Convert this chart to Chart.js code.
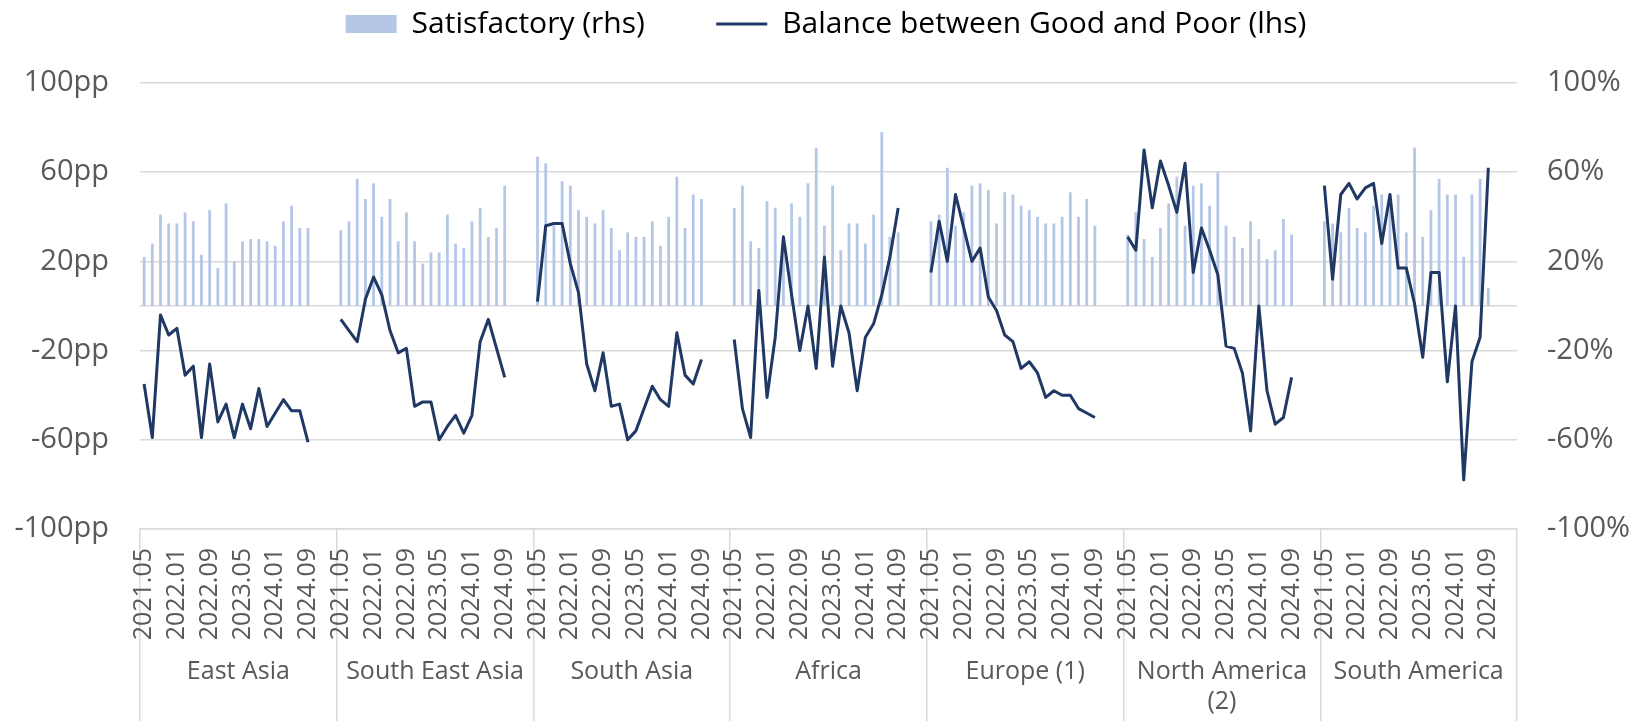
<!DOCTYPE html>
<html>
<head>
<meta charset="utf-8">
<script src="https://cdn.jsdelivr.net/npm/chart.js@4.4.1/dist/chart.umd.min.js"></script>
<style>
  html, body { margin: 0; padding: 0; background: #fff; }
  #wrap { width: 1652px; height: 721px; }
</style>
</head>
<body>
<div id="wrap"><canvas id="grafica" width="1652" height="721"></canvas></div>
<script>
/* Regiones y fechas (bimensual) */
const regiones = ["East Asia", "South East Asia", "South Asia", "Africa", "Europe (1)", ["North America", "(2)"], "South America"];
const fechas = ["2021.05", "2021.07", "2021.09", "2021.11", "2022.01", "2022.03", "2022.05", "2022.07",
    "2022.09", "2022.11", "2023.01", "2023.03", "2023.05", "2023.07", "2023.09", "2023.11",
    "2024.01", "2024.03", "2024.05", "2024.07", "2024.09"];

/* Satisfactory (rhs), % */
const satEastAsia = [22, 28, 41, 37, 37, 42, 38, 23, 43, 17, 46, 20, 29, 30, 30, 29, 27, 38, 45, 35, 35];
const satSouthEastAsia = [34, 38, 57, 48, 55, 40, 48, 29, 42, 29, 19, 24, 24, 41, 28, 26, 38, 44, 31, 35, 54];
const satSouthAsia = [67, 64, 36, 56, 54, 43, 40, 37, 43, 35, 25, 33, 31, 31, 38, 27, 40, 58, 35, 50, 48];
const satAfrica = [44, 54, 29, 26, 47, 44, 30, 46, 40, 55, 71, 36, 54, 25, 37, 37, 28, 41, 78, 31, 33];
const satEurope = [38, 41, 62, 36, 42, 54, 55, 52, 37, 51, 50, 45, 43, 40, 37, 37, 40, 51, 40, 48, 36];
const satNorthAmerica = [32, 42, 30, 22, 35, 46, 58, 36, 54, 55, 45, 60, 36, 31, 26, 38, 30, 21, 25, 39, 32];
const satSouthAmerica = [38, 37, 33, 44, 35, 33, 45, 50, 50, 50, 33, 71, 31, 43, 57, 50, 50, 22, 50, 57, 8];

/* Balance between Good and Poor (lhs), pp */
const balEastAsia = [-35, -59, -4, -13, -10, -31, -27, -59, -26, -52, -44, -59, -44, -55, -37, -54, -48, -42, -47, -47, -61];
const balSouthEastAsia = [-6, -11, -16, 3, 13, 5, -11, -21, -19, -45, -43, -43, -60, -54, -49, -57, -49, -16, -6, -19, -32];
const balSouthAsia = [2, 36, 37, 37, 19, 6, -26, -38, -21, -45, -44, -60, -56, -46, -36, -42, -45, -12, -31, -35, -24];
const balAfrica = [-15, -46, -59, 7, -41, -14, 31, 5, -20, 0, -28, 22, -27, 0, -12, -38, -14, -8, 5, 22, 44];
const balEurope = [15, 38, 20, 50, 35, 20, 26, 4, -2, -13, -16, -28, -25, -30, -41, -38, -40, -40, -46, -48, -50];
const balNorthAmerica = [31, 25, 70, 44, 65, 54, 42, 64, 15, 35, 25, 14, -18, -19, -30, -56, 0, -38, -53, -50, -32];
const balSouthAmerica = [54, 12, 50, 55, 48, 53, 55, 28, 50, 17, 17, 1, -23, 15, 15, -34, 0, -78, -25, -14, 62];

/* Cada región deja 3 huecos al final */
const huecos = 3;
function unir(listas, relleno) {
    let out = [];
    listas.forEach(l => { out = out.concat(l, Array(huecos).fill(relleno)); });
    return out;
}

const etiquetas = unir(regiones.map(() => fechas), "");
const satisfactorio = unir([satEastAsia, satSouthEastAsia, satSouthAsia, satAfrica, satEurope, satNorthAmerica, satSouthAmerica], null);
const balance = unir([balEastAsia, balSouthEastAsia, balSouthAsia, balAfrica, balEurope, balNorthAmerica, balSouthAmerica], null);

const gris = "#595959";
const rejilla = "#d9d9d9";
const azulClaro = "#b4c7e7";
const azulOscuro = "#1f3864";
const grupo = fechas.length + huecos;

Chart.defaults.font.family = "'Open Sans', 'Noto Sans', sans-serif";
Chart.defaults.color = gris;

new Chart(document.getElementById("grafica").getContext("2d"), {
    type: "bar",
    data: {
        labels: etiquetas,
        datasets: [{
            type: "bar",
            label: "Satisfactory (rhs)",
            data: satisfactorio,
            xAxisID: "x",
            yAxisID: "y1",
            backgroundColor: azulClaro,
            categoryPercentage: 1,
            barPercentage: 0.34,
            order: 2
        }, {
            type: "line",
            label: "Balance between Good and Poor (lhs)",
            data: balance,
            xAxisID: "x",
            yAxisID: "y",
            borderColor: azulOscuro,
            borderWidth: 3,
            borderJoinStyle: "round",
            pointRadius: 0,
            pointHoverRadius: 0,
            tension: 0,
            spanGaps: false,
            order: 1
        }]
    },
    options: {
        responsive: false,
        animation: false,
        layout: { padding: 0 },
        plugins: {
            tooltip: { enabled: false },
            legend: {
                position: "top",
                align: "center",
                labels: {
                    usePointStyle: true,
                    pointStyleWidth: 51,
                    boxHeight: 18,
                    padding: 9,
                    color: gris,
                    font: { size: 30 },
                    generateLabels: () => [{
                        text: "Satisfactory (rhs)" + "\u00a0".repeat(8),
                        fillStyle: azulClaro, strokeStyle: azulClaro, lineWidth: 0,
                        pointStyle: "rect", datasetIndex: 0, hidden: false
                    }, {
                        text: "Balance between Good and Poor (lhs)",
                        fillStyle: azulOscuro, strokeStyle: azulOscuro, lineWidth: 3,
                        pointStyle: "line", datasetIndex: 1, hidden: false
                    }]
                }
            }
        },
        scales: {
            x: {
                type: "category",
                position: "bottom",
                offset: true,
                weight: 0,
                grid: {
                    display: true,
                    drawOnChartArea: false,
                    drawTicks: true,
                    tickLength: 192,
                    offset: true,
                    lineWidth: 1.5,
                    color: c => (c.index === undefined || c.index % grupo === 0) ? rejilla : "rgba(0,0,0,0)"
                },
                border: { display: true, color: rejilla, width: 1.5 },
                ticks: {
                    autoSkip: false,
                    minRotation: 90,
                    maxRotation: 90,
                    padding: -173,
                    color: gris,
                    font: { size: 25 },
                    callback: function (v, i) { return i % 4 === 0 ? this.getLabelForValue(v) : ""; }
                },
                afterFit: s => { s.height = 120; }
            },
            x2: {
                type: "category",
                position: "bottom",
                labels: regiones,
                offset: true,
                weight: 1,
                grid: { display: false, drawTicks: false },
                border: { display: false },
                ticks: {
                    autoSkip: false,
                    minRotation: 0,
                    maxRotation: 0,
                    padding: 8,
                    color: gris,
                    font: { size: 25 }
                },
                afterFit: s => { s.height = 72; }
            },
            xTop: {
                type: "category",
                position: "top",
                labels: [""],
                grid: { display: false, drawTicks: false },
                border: { display: false },
                ticks: { display: false },
                afterFit: s => { s.height = 34; }
            },
            y: {
                position: "left",
                min: -100,
                max: 100,
                afterBuildTicks: s => { s.ticks = [-100, -60, -20, 0, 20, 60, 100].map(v => ({ value: v })); },
                grid: { color: rejilla, lineWidth: 1.5, drawTicks: false },
                border: { display: false },
                ticks: {
                    padding: 31,
                    color: gris,
                    font: { size: 29 },
                    callback: v => v === 0 ? "" : v + "pp"
                },
                afterFit: s => { s.width = 140; }
            },
            y1: {
                position: "right",
                min: -100,
                max: 100,
                grid: { drawOnChartArea: false, drawTicks: false },
                border: { display: false },
                ticks: {
                    stepSize: 40,
                    padding: 30,
                    color: gris,
                    font: { size: 29 },
                    callback: v => v + "%"
                },
                afterFit: s => { s.width = 135; }
            }
        }
    }
});
</script>
</body>
</html>
